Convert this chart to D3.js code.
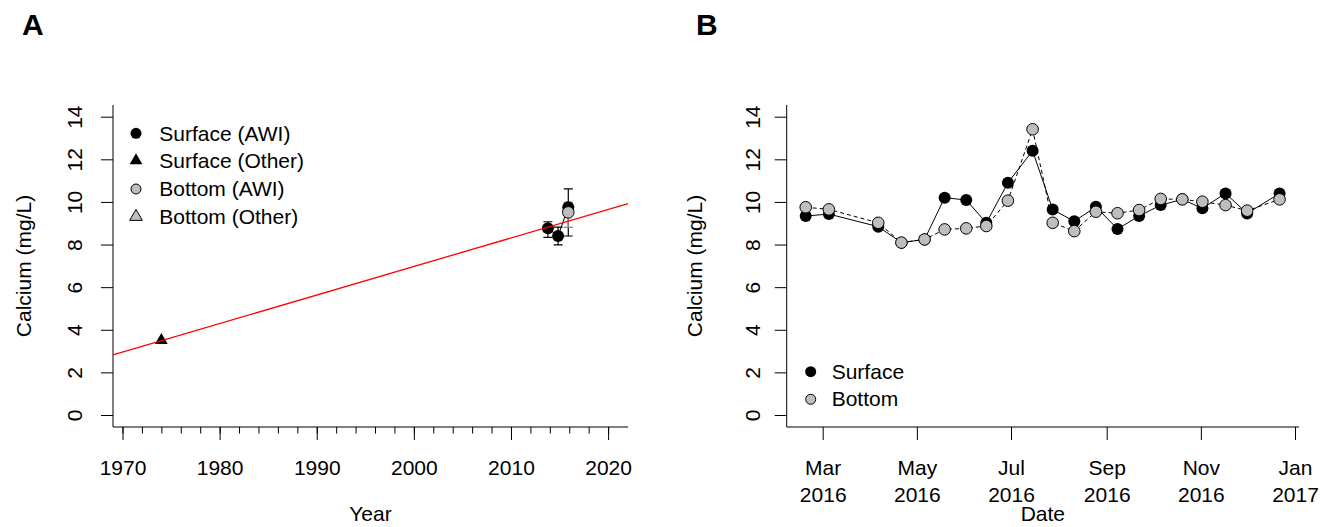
<!DOCTYPE html>
<html><head><meta charset="utf-8">
<script src="https://cdn.jsdelivr.net/npm/d3@7"></script>
<style>
body{margin:0;background:#fff}
svg{display:block}
text{font-family:"Liberation Sans",Arial,Helvetica,sans-serif;fill:#000}
</style>
</head><body>
<svg id="c" width="1327" height="527"></svg>
<script>
// ---------- data : panel A ----------
const yearTicks = [1970, 1980, 1990, 2000, 2010, 2020];
const calciumTicks = [0, 2, 4, 6, 8, 10, 12, 14];
const awiYears = [2013.8, 2014.85, 2015.9];
const surfaceAWI = [8.76, 8.40, 9.75];
const surfaceAWILow = [8.34, 7.98, 8.40];
const surfaceAWIHigh = [9.07, 8.82, 10.61];
const bottomAWI = [null, null, 9.51];
const bottomAWILow = [null, null, 8.81];
const bottomAWIHigh = [null, null, 9.98];
const otherYears = [1974];
const surfaceOther = [3.5];
const trendAt1970 = 2.95;
const trendSlope = 0.134;
const legendA = ["Surface (AWI)", "Surface (Other)", "Bottom (AWI)", "Bottom (Other)"];

// ---------- data : panel B ----------
const sampleDates = ["2016-02-19","2016-03-05","2016-04-06","2016-04-21","2016-05-06","2016-05-19",
  "2016-06-02","2016-06-15","2016-06-29","2016-07-15","2016-07-28","2016-08-11","2016-08-25",
  "2016-09-08","2016-09-22","2016-10-06","2016-10-20","2016-11-02","2016-11-17","2016-12-01","2016-12-22"];
const surfaceSeries = [9.34, 9.43, 8.84, 8.09, 8.24, 10.20, 10.09, 9.02, 10.90, 12.40, 9.64,
  9.09, 9.77, 8.73, 9.34, 9.85, 10.12, 9.70, 10.40, 9.46, 10.40];
const bottomSeries = [9.75, 9.65, 9.02, 8.09, 8.24, 8.71, 8.76, 8.87, 10.06, 13.41, 9.02,
  8.63, 9.54, 9.47, 9.62, 10.14, 10.12, 10.01, 9.85, 9.59, 10.12];
const monthTicks = ["2016-03-01","2016-05-01","2016-07-01","2016-09-01","2016-11-01","2017-01-01"];
const legendB = ["Surface", "Bottom"];

// ---------- layout ----------
const GREY = "#bebebe";
const FONT = "Liberation Sans, Arial, Helvetica, sans-serif";
const svg = d3.select("#c");
const plotTop = 105, plotBottom = 427;
const PA = {left: 113, right: 628};
const PB = {left: 786.7, right: 1299};

const y = d3.scaleLinear().domain([0, 14]).range([415, 116.7]);
const xA = d3.scaleLinear().domain([1970, 2020]).range([122.5, 608.1]);
const parse = d3.timeParse("%Y-%m-%d");
const xB = d3.scaleTime().domain([parse("2016-03-01"), parse("2017-01-01")]).range([822.7, 1295]);

// panel letters
svg.append("text").attr("x", 22).attr("y", 35).attr("font-size", 30).attr("font-weight", "bold").text("A");
svg.append("text").attr("x", 696).attr("y", 35).attr("font-size", 30).attr("font-weight", "bold").text("B");

function box(p) {
  svg.append("path")
    .attr("d", `M${p.left},${plotTop}V${plotBottom}H${p.right}`)
    .attr("fill", "none").attr("stroke", "#000").attr("stroke-width", 1);
}

function yAxis(xPos, labelBase, titleBase) {
  const g = svg.append("g").attr("transform", `translate(${xPos},0)`)
    .call(d3.axisLeft(y).tickValues(calciumTicks).tickSize(12).tickFormat(d3.format("d")));
  g.attr("font-size", 21).attr("font-family", FONT);
  g.select(".domain").remove();
  g.selectAll(".tick line").attr("stroke", "#000");
  g.selectAll(".tick text").attr("x", 0).attr("dy", 0).attr("fill", "#000")
    .attr("text-anchor", "middle")
    .attr("transform", `translate(${labelBase - xPos},0) rotate(-90)`);
  svg.append("text")
    .attr("transform", `translate(${titleBase},${(plotTop + plotBottom) / 2}) rotate(-90)`)
    .attr("text-anchor", "middle").attr("font-size", 21).text("Calcium (mg/L)");
}

// ================= Panel A =================
box(PA);
yAxis(PA.left, 81.7, 30.5);

const minorYears = d3.range(1970, 2021, 2);
const gMinor = svg.append("g").attr("transform", `translate(0,${plotBottom})`)
  .call(d3.axisBottom(xA).tickValues(minorYears).tickSize(6.5).tickFormat(""));
gMinor.select(".domain").remove();
gMinor.selectAll(".tick line").attr("stroke", "#000");
const gMajor = svg.append("g").attr("transform", `translate(0,${plotBottom})`)
  .call(d3.axisBottom(xA).tickValues(yearTicks).tickSize(13).tickFormat(d3.format("d")));
gMajor.attr("font-size", 21).attr("font-family", FONT);
gMajor.select(".domain").remove();
gMajor.selectAll(".tick line").attr("stroke", "#000");
gMajor.selectAll(".tick text").attr("y", 48).attr("dy", 0).attr("fill", "#000");
svg.append("text").attr("x", (PA.left + PA.right) / 2).attr("y", 521)
  .attr("text-anchor", "middle").attr("font-size", 21).text("Year");

const surfA = awiYears.map((yr, i) => ({yr, v: surfaceAWI[i], lo: surfaceAWILow[i], hi: surfaceAWIHigh[i]}));
const botA = awiYears.map((yr, i) => ({yr, v: bottomAWI[i], lo: bottomAWILow[i], hi: bottomAWIHigh[i]}))
  .filter(d => d.v != null);

const lineA = d3.line().x(d => xA(d.yr)).y(d => y(d.v));
svg.append("path").datum(surfA).attr("d", lineA).attr("fill", "none").attr("stroke", "#000").attr("stroke-width", 1);

function errorBars(data, color) {
  const g = svg.append("g").attr("stroke", color).attr("stroke-width", 1.2).attr("fill", "none");
  data.forEach(d => {
    const cx = xA(d.yr);
    g.append("path").attr("d",
      `M${cx},${y(d.lo)}V${y(d.hi)}M${cx - 4.5},${y(d.lo)}H${cx + 4.5}M${cx - 4.5},${y(d.hi)}H${cx + 4.5}`);
  });
}
errorBars(surfA, "#000");
errorBars(botA, "#888");

svg.append("g").selectAll("circle").data(surfA).join("circle")
  .attr("cx", d => xA(d.yr)).attr("cy", d => y(d.v)).attr("r", 6).attr("fill", "#000");
svg.append("g").selectAll("circle").data(botA).join("circle")
  .attr("cx", d => xA(d.yr)).attr("cy", d => y(d.v)).attr("r", 5.8)
  .attr("fill", GREY).attr("stroke", "#000").attr("stroke-width", 1);

const tri = d3.symbol().type(d3.symbolTriangle).size(70);
svg.append("g").selectAll("path").data(otherYears.map((yr, i) => ({yr, v: surfaceOther[i]}))).join("path")
  .attr("transform", d => `translate(${xA(d.yr)},${y(d.v)})`).attr("d", tri).attr("fill", "#000");

const x0 = xA.invert(PA.left), x1 = xA.invert(PA.right);
svg.append("line")
  .attr("x1", PA.left).attr("y1", y(trendAt1970 + trendSlope * (x0 - 1970)))
  .attr("x2", PA.right).attr("y2", y(trendAt1970 + trendSlope * (x1 - 1970)))
  .attr("stroke", "#ff0000").attr("stroke-width", 1.3);

const legRowsA = [133.3, 160.7, 189, 216.7];
const legA = svg.append("g");
legendA.forEach((lab, i) => {
  const cy = legRowsA[i];
  if (i === 0) legA.append("circle").attr("cx", 136).attr("cy", cy).attr("r", 5.5).attr("fill", "#000");
  if (i === 1) legA.append("path").attr("transform", `translate(136,${cy})`).attr("d", tri).attr("fill", "#000");
  if (i === 2) legA.append("circle").attr("cx", 136).attr("cy", cy).attr("r", 5).attr("fill", GREY).attr("stroke", "#000");
  if (i === 3) legA.append("path").attr("transform", `translate(136,${cy})`).attr("d", tri).attr("fill", GREY).attr("stroke", "#000");
  legA.append("text").attr("x", 159.3).attr("y", cy + 7.3).attr("font-size", 21).text(lab);
});

// ================= Panel B =================
box(PB);
yAxis(PB.left, 760, 702.2);

const monthFmt = d3.timeFormat("%b|%Y");
const gB = svg.append("g").attr("transform", `translate(0,${plotBottom})`)
  .call(d3.axisBottom(xB).tickValues(monthTicks.map(parse)).tickSize(13).tickFormat(monthFmt));
gB.attr("font-size", 21).attr("font-family", FONT);
gB.select(".domain").remove();
gB.selectAll(".tick line").attr("stroke", "#000");
gB.selectAll(".tick text").each(function () {
  const t = d3.select(this);
  const parts = t.text().split("|");
  t.text(null).attr("y", 48).attr("dy", 0).attr("fill", "#000");
  t.append("tspan").attr("x", 0).attr("y", 48).text(parts[0]);
  t.append("tspan").attr("x", 0).attr("y", 74.7).text(parts[1]);
});
svg.append("text").attr("x", (PB.left + PB.right) / 2).attr("y", 521)
  .attr("text-anchor", "middle").attr("font-size", 21).text("Date");

const rowsB = sampleDates.map((s, i) => ({d: parse(s), s: surfaceSeries[i], b: bottomSeries[i]}));
svg.append("path").datum(rowsB)
  .attr("d", d3.line().x(d => xB(d.d)).y(d => y(d.s)))
  .attr("fill", "none").attr("stroke", "#000").attr("stroke-width", 1);
svg.append("g").selectAll("circle").data(rowsB).join("circle")
  .attr("cx", d => xB(d.d)).attr("cy", d => y(d.s)).attr("r", 6).attr("fill", "#000");
svg.append("path").datum(rowsB)
  .attr("d", d3.line().x(d => xB(d.d)).y(d => y(d.b)))
  .attr("fill", "none").attr("stroke", "#000").attr("stroke-width", 1).attr("stroke-dasharray", "4,3");
svg.append("g").selectAll("circle").data(rowsB).join("circle")
  .attr("cx", d => xB(d.d)).attr("cy", d => y(d.b)).attr("r", 5.8)
  .attr("fill", GREY).attr("stroke", "#000").attr("stroke-width", 1);

const legRowsB = [371.7, 399.3];
legendB.forEach((lab, i) => {
  const cy = legRowsB[i];
  if (i === 0) svg.append("circle").attr("cx", 810.7).attr("cy", cy).attr("r", 5.5).attr("fill", "#000");
  else svg.append("circle").attr("cx", 810.7).attr("cy", cy).attr("r", 5).attr("fill", GREY).attr("stroke", "#000");
  svg.append("text").attr("x", 831.7).attr("y", cy + 7).attr("font-size", 21).text(lab);
});
</script>
</body></html>
